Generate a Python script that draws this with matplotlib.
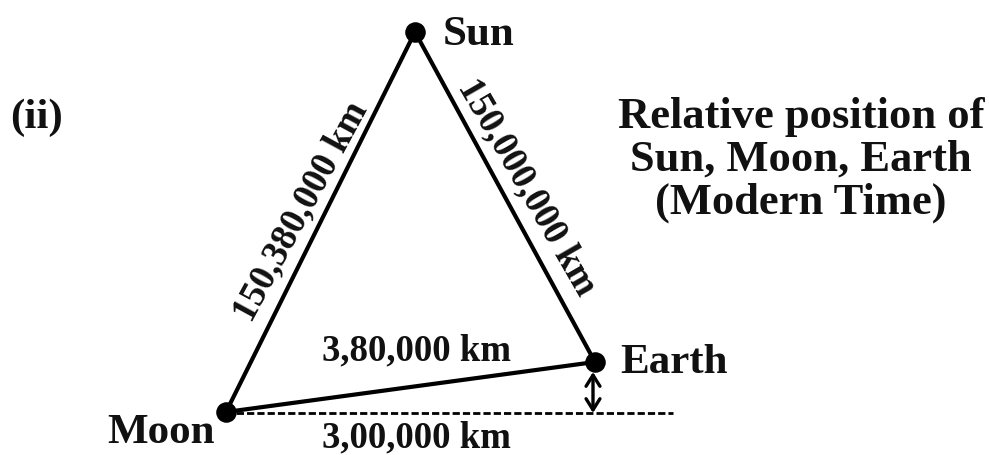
import matplotlib
matplotlib.use("Agg")
import matplotlib.pyplot as plt

# --- data (pixel-space diagram coordinates, y downward) ---
bodies = ["Sun", "Earth", "Moon"]
body_x = [415, 595, 226]
body_y = [32, 362, 412]

label_x = [443, 620, 107]
label_y = [45, 373, 443]
label_ha = ["left", "left", "left"]

side_labels = ["150,380,000 km", "150,000,000 km", "3,80,000 km", "3,00,000 km"]
side_x = [301, 527, 416, 416]
side_y = [212, 187, 360, 447]
side_rot = [61.5, -60.0, 0, 0]

title_lines = ["Relative position of", "Sun, Moon, Earth", "(Modern Time)"]
title_x = 801
title_y = [117, 160, 203]

panel_label = "(ii)"
panel_xy = (37, 118)

dash_end_x = 673

FONT = "Liberation Serif"

fig = plt.figure(figsize=(9.89, 4.55), dpi=100)
ax = fig.add_axes([0, 0, 1, 1])
ax.set_xlim(0, 989)
ax.set_ylim(455, 0)
ax.axis("off")

sun, earth, moon = 0, 1, 2
# triangle sides
for a, b in [(moon, sun), (sun, earth), (moon, earth)]:
    ax.plot([body_x[a], body_x[b]], [body_y[a], body_y[b]], color="black",
            lw=3, solid_capstyle="round", zorder=2)

# dashed reference line from Moon
ax.plot([body_x[moon], dash_end_x], [body_y[moon] + 1, body_y[moon] + 1],
        color="black", lw=2.0, linestyle=(0, (2.6, 1.1)), zorder=1)

# double-headed arrow between Earth and dashed line
ax.annotate("", xy=(body_x[earth] - 2, body_y[moon] + 1), xytext=(body_x[earth] - 2, body_y[earth] + 10),
            arrowprops=dict(arrowstyle="<->,head_length=0.8,head_width=0.5",
                            color="black", lw=2.4, shrinkA=0, shrinkB=0), zorder=2)

# bodies
ax.scatter(body_x, body_y, s=190, color="black", zorder=3)

for name, x, y, ha in zip(bodies, label_x, label_y, label_ha):
    ax.text(x, y, name, ha=ha, va="baseline", fontsize=31, fontweight="bold",
            family=FONT, color="#111111")

for s, x, y, r in zip(side_labels[:2], side_x[:2], side_y[:2], side_rot[:2]):
    ax.text(x, y, s, ha="center", va="center", rotation=r, rotation_mode="anchor",
            fontsize=26.5, fontweight="bold", family=FONT, color="#111111")
for s, x, y in zip(side_labels[2:], side_x[2:], side_y[2:]):
    ax.text(x, y, s, ha="center", va="baseline",
            fontsize=26.5, fontweight="bold", family=FONT, color="#111111")

for line, y in zip(title_lines, title_y):
    ax.text(title_x, y, line, ha="center", va="center", fontsize=32,
            fontweight="bold", family=FONT, color="#111111")

ax.text(panel_xy[0], panel_xy[1], panel_label, ha="center", va="center", fontsize=31,
        fontweight="bold", family=FONT, color="#111111")

fig.savefig("out.png", dpi=100, facecolor="white")
